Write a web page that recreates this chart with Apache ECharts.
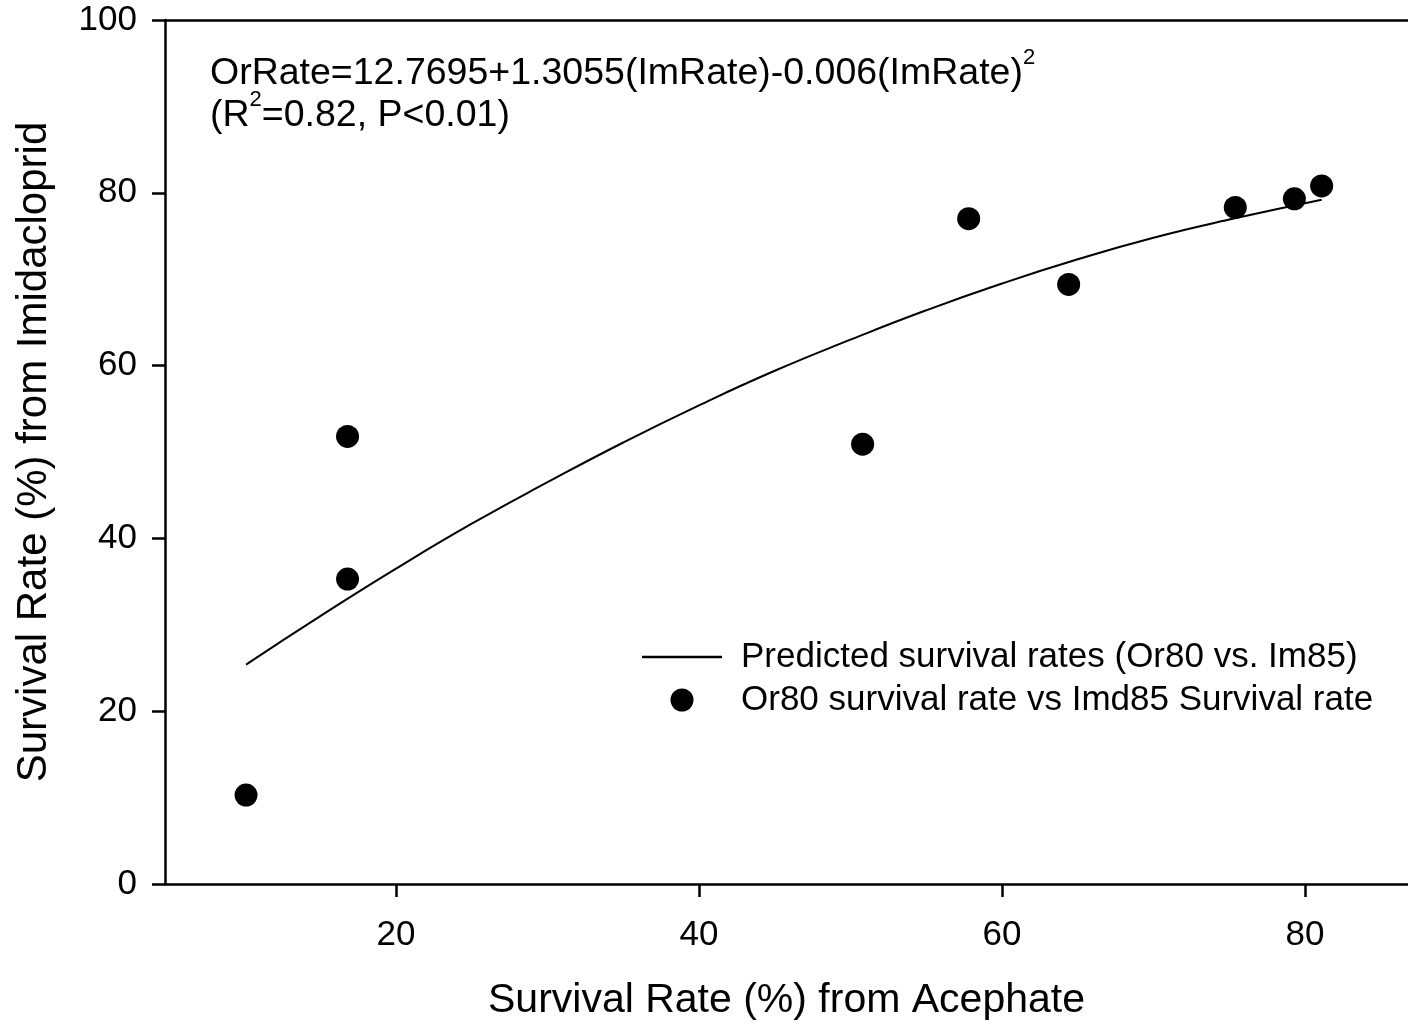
<!DOCTYPE html>
<html>
<head>
<meta charset="utf-8">
<script src="https://cdn.jsdelivr.net/npm/echarts@6/dist/echarts.min.js"></script>
<style>
  html, body { margin: 0; padding: 0; background: #fff; }
  #chart { width: 1408px; height: 1027px; }
</style>
</head>
<body>
<div id="chart"></div>
<script>
// observed points: acephate survival (x) vs imidacloprid survival (y)
const obsX = [10.1, 16.8, 16.8, 50.8, 57.8, 64.4, 75.4, 79.3, 81.1];
const obsY = [10.3, 51.8, 35.3, 50.9, 77.0, 69.4, 78.3, 79.3, 80.8];

// fitted curve
const fitX = [10.1, 15, 20, 25, 30, 35, 40, 45, 50, 55, 60, 65, 70, 75, 81.1];
const fitY = [25.4, 31.0, 36.5, 41.7, 46.5, 51.1, 55.4, 59.4, 63.0, 66.4, 69.5, 72.3, 74.8, 76.9, 79.2];

const xTicks = [20, 40, 60, 80];

const font = 'Liberation Sans, Arial, sans-serif';

const chart = echarts.init(document.getElementById('chart'));

// rich text for the fit equation, with superscript 2
const eqRich = {
    a: { fontFamily: font, fontSize: 37.5, lineHeight: 54, fill: '#000' },
    s: { fontFamily: font, fontSize: 22, lineHeight: 22, verticalAlign: 'top', fill: '#000' }
};

chart.setOption({
    animation: false,
    backgroundColor: '#fff',
    textStyle: { fontFamily: font, color: '#000' },
    grid: { left: 165, top: 20, right: 0, bottom: 143 },
    legend: {
        orient: 'vertical',
        left: 642,
        top: 637,
        padding: 0,
        itemWidth: 80,
        itemHeight: 23,
        itemGap: 3,
        textStyle: { fontFamily: font, fontSize: 35, color: '#000', lineHeight: 40, padding: [0, 0, 0, 14] },
        data: [
            { name: 'Predicted survival rates (Or80 vs. Im85)', icon: 'path://M0,0H80V2.4H0Z' },
            { name: 'Or80 survival rate vs Imd85 Survival rate' }
        ]
    },
    xAxis: [
        {
            type: 'value',
            min: 4.75,
            max: 86.8,
            position: 'bottom',
            name: 'Survival Rate (%) from Acephate',
            nameLocation: 'middle',
            nameGap: 96,
            nameTextStyle: { fontFamily: font, fontSize: 41, color: '#000', verticalAlign: 'top' },
            axisLine: { onZero: false, lineStyle: { color: '#000', width: 2.5 } },
            axisTick: { inside: false, length: 13, lineStyle: { color: '#000', width: 2.5 }, customValues: xTicks },
            axisLabel: { customValues: xTicks, fontFamily: font, fontSize: 35, color: '#000', margin: 34 },
            splitLine: { show: false }
        },
        {
            type: 'value',
            min: 4.75,
            max: 86.8,
            position: 'top',
            axisLine: { onZero: false, lineStyle: { color: '#000', width: 2.5 } },
            axisTick: { show: false },
            axisLabel: { show: false },
            splitLine: { show: false }
        }
    ],
    yAxis: {
        type: 'value',
        min: 0,
        max: 100,
        interval: 20,
        name: 'Survival Rate (%) from Imidacloprid',
        nameLocation: 'middle',
        nameGap: 110,
        nameRotate: 90,
        nameTextStyle: { fontFamily: font, fontSize: 42, color: '#000' },
        axisLine: { onZero: false, lineStyle: { color: '#000', width: 2.5 } },
        axisTick: { inside: false, length: 13, lineStyle: { color: '#000', width: 2.5 } },
        axisLabel: { fontFamily: font, fontSize: 35, color: '#000', margin: 28 },
        splitLine: { show: false }
    },
    graphic: [
        {
            type: 'text',
            left: 210,
            top: 47,
            style: {
                text: '{a|OrRate=12.7695+1.3055(ImRate)-0.006(ImRate)}{s|2}',
                rich: eqRich
            }
        },
        {
            type: 'text',
            left: 210,
            top: 89,
            style: {
                text: '{a|(R}{s|2}{a|=0.82, P<0.01)}',
                rich: eqRich
            }
        }
    ],
    series: [
        {
            name: 'Predicted survival rates (Or80 vs. Im85)',
            type: 'line',
            smooth: true,
            symbol: 'none',
            lineStyle: { color: '#000', width: 2 },
            itemStyle: { color: '#000' },
            data: fitX.map((x, i) => [x, fitY[i]])
        },
        {
            name: 'Or80 survival rate vs Imd85 Survival rate',
            type: 'scatter',
            symbol: 'circle',
            symbolSize: 23,
            itemStyle: { color: '#000', opacity: 1 },
            data: obsX.map((x, i) => [x, obsY[i]])
        }
    ]
});
</script>
</body>
</html>
